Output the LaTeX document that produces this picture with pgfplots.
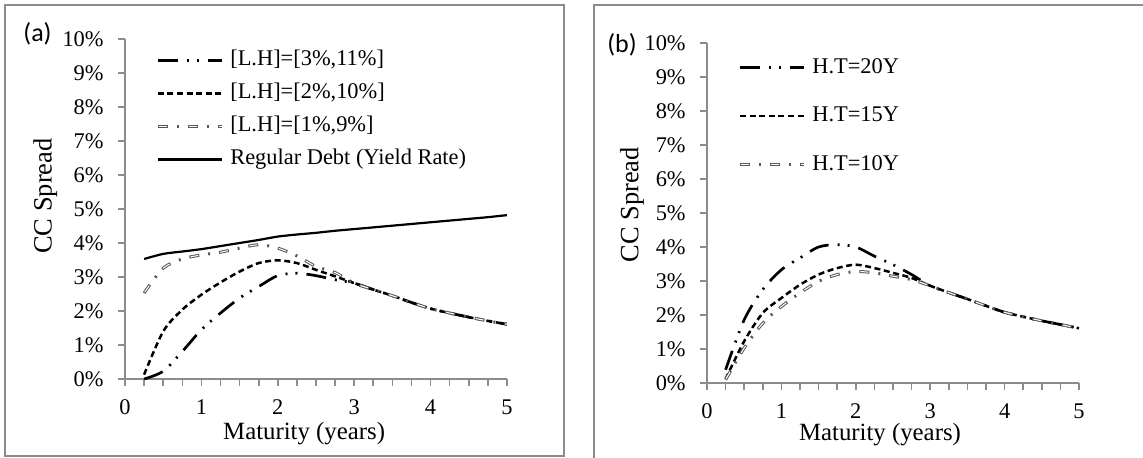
\documentclass[border=0pt]{standalone}
\usepackage{pgfplots}
\pgfplotsset{compat=1.18}
\usepackage{pgfplotstable}
\usepackage{fontspec}
\setmainfont{Liberation Serif}
\newfontfamily\calibri{Carlito}
\newfontfamily\tickfont{Liberation Serif}

\pgfplotstableread{
x    reg   a3    a2    a1
0.25 3.53  0.00  0.13  2.53
0.50 3.68  0.23  1.40  3.26
0.75 3.75  0.81  2.04  3.53
1.00 3.82  1.45  2.48  3.65
1.25 3.91  1.94  2.84  3.73
1.50 4.00  2.38  3.16  3.85
1.75 4.09  2.72  3.41  3.95
2.00 4.19  3.04  3.49  3.85
2.25 4.25  3.11  3.41  3.62
2.50 4.30  3.04  3.21  3.31
2.75 4.36  2.92  3.02  3.13
3.00 4.41  2.82  2.82  2.82
3.25 4.46  2.63  2.63  2.63
3.50 4.51  2.45  2.45  2.45
3.75 4.56  2.25  2.25  2.25
4.00 4.61  2.07  2.07  2.07
4.25 4.66  1.94  1.94  1.94
4.50 4.71  1.82  1.82  1.82
4.75 4.76  1.71  1.71  1.71
5.00 4.82  1.61  1.61  1.61
}\tabA

\pgfplotstableread{
x    b20   b15   b10
0.25 0.39  0.12  0.10
0.50 1.86  1.23  1.03
0.75 2.75  2.06  1.76
1.00 3.33  2.50  2.25
1.25 3.68  2.89  2.65
1.50 4.00  3.19  2.99
1.75 4.07  3.38  3.19
2.00 4.00  3.48  3.28
2.25 3.73  3.38  3.24
2.50 3.48  3.24  3.14
2.75 3.19  3.09  3.04
3.00 2.86  2.86  2.86
3.25 2.66  2.66  2.66
3.50 2.47  2.47  2.47
3.75 2.27  2.27  2.27
4.00 2.08  2.08  2.08
4.25 1.95  1.95  1.95
4.50 1.83  1.83  1.83
4.75 1.72  1.72  1.72
5.00 1.61  1.61  1.61
}\tabB

\pgfplotsset{
  ccaxis/.style={
    scale only axis, height=170pt,
    xmin=0, xmax=5, ymin=0, ymax=10,
    axis x line=bottom, axis y line=left,
    axis line style={-, draw=black!45, line width=0.8pt},
    xtick={0,1,2,3,4,5},
    minor xtick={0.25,0.5,0.75,1.25,1.5,1.75,2.25,2.5,2.75,3.25,3.5,3.75,4.25,4.5,4.75},
    ytick={0,1,2,3,4,5,6,7,8,9,10},
    xticklabel={\tickfont\fontsize{11.2}{12}\selectfont\pgfmathprintnumber[assume math mode=true]{\tick}},
    yticklabel={\tickfont\fontsize{11.2}{12}\selectfont\pgfmathprintnumber[assume math mode=true]{\tick}\%},
    tick align=outside, major tick length=3.5pt, minor tick length=3.5pt,
    major tick style={draw=black!45, line width=0.8pt},
    minor tick style={draw=black!45, line width=0.8pt},
    tick label style={inner sep=1pt},
    xticklabel style={yshift=-5.5pt},
    yticklabel style={xshift=-6pt},
    xlabel={Maturity (years)}, ylabel={CC Spread},
    xlabel style={font=\fontsize{12.4}{14}\selectfont, anchor=center, inner sep=1pt},
    ylabel style={font=\fontsize{13.2}{15}\selectfont, anchor=center, inner sep=1pt},
    legend image code/.code={\draw[##1] (0pt,0pt) -- (32pt,0pt);},
    legend cell align=left,
  },
  ddot/.style={black, line width=1.35pt, smooth, tension=0.5,
    dash pattern=on 10pt off 4.5pt on 1pt off 4pt on 1pt off 4.5pt},
  dsh/.style={black, line width=1.25pt, smooth, tension=0.5,
    dash pattern=on 3pt off 1.8pt},
  hol/.style={black!65, line width=1.5pt, smooth, tension=0.5,
    dash pattern=on 5pt off 4.5pt on 1pt off 4.5pt,
    postaction={draw, white, line width=0.5pt, dash pattern=on 4pt off 11pt, dash phase=14.5pt}},
  sol/.style={black, line width=1.1pt, smooth, tension=0.5},
}

\begin{document}
\begin{tikzpicture}
\path[use as bounding box] (0,0) rectangle (571.5pt,-228.5pt);
\draw[black!45, line width=0.8pt] (2.5pt,-2.5pt) rectangle (282pt,-228pt);
\draw[black!45, line width=0.8pt] (297pt,-240pt) -- (297pt,-2.5pt) -- (580pt,-2.5pt);
\node[font=\calibri\fontsize{13}{15}\selectfont] at (18.75pt,-17pt) {(a)};
\node[font=\calibri\fontsize{13}{15}\selectfont] at (311pt,-22.5pt) {(b)};

\begin{axis}[ccaxis, width=191pt,
  at={(62.5pt,-189.5pt)}, anchor=south west,
  xlabel style={at={(axis description cs:0.469,-0.16)}},
  ylabel style={at={(axis description cs:-0.209,0.538)}},
  legend style={at={(axis description cs:0.081,0.969)}, anchor=north west,
    draw=none, fill=none, inner sep=0pt, row sep=6pt,
    font=\fontsize{11.2}{13}\selectfont,
    nodes={inner sep=0pt, text height=8pt, text depth=2.5pt},
    /tikz/every odd column/.append style={column sep=3.5pt}},
]
\addplot[ddot] table[x=x,y=a3] {\tabA};
\addlegendentry{[L.H]=[3\%,11\%]}
\addplot[dsh] table[x=x,y=a2] {\tabA};
\addlegendentry{[L.H]=[2\%,10\%]}
\addplot[hol] table[x=x,y=a1] {\tabA};
\addlegendentry{[L.H]=[1\%,9\%]}
\addplot[sol] table[x=x,y=reg] {\tabA};
\addlegendentry{Regular Debt (Yield Rate)}
\end{axis}

\begin{axis}[ccaxis, width=186pt,
  at={(353.5pt,-191.5pt)}, anchor=south west,
  xlabel style={at={(axis description cs:0.465,-0.152)}},
  ylabel style={at={(axis description cs:-0.2016,0.524)}},
  legend style={at={(axis description cs:0.0833,0.960)}, anchor=north west,
    draw=none, fill=none, inner sep=0pt, row sep=13.8pt,
    font=\fontsize{11.2}{13}\selectfont,
    nodes={inner sep=0pt, text height=8pt, text depth=2.5pt},
    /tikz/every odd column/.append style={column sep=3.5pt}},
]
\addplot[ddot] table[x=x,y=b20] {\tabB};
\addlegendentry{H.T=20Y}
\addplot[dsh] table[x=x,y=b15] {\tabB};
\addlegendentry{H.T=15Y}
\addplot[hol] table[x=x,y=b10] {\tabB};
\addlegendentry{H.T=10Y}
\end{axis}
\end{tikzpicture}
\end{document}
